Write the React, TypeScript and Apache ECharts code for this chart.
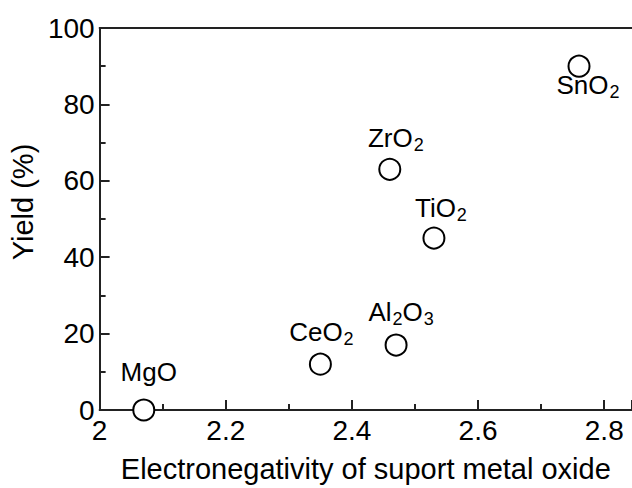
import React, { useEffect, useRef } from "react";
import * as echarts from "echarts";

const names = ["MgO", "CeO2", "Al2O3", "ZrO2", "TiO2", "SnO2"];
const labelRich = [
  "{a|MgO}",
  "{a|CeO}{s|2}",
  "{a|Al}{s|2}{a|O}{s|3}",
  "{a|ZrO}{s|2}",
  "{a|TiO}{s|2}",
  "{a|SnO}{s|2}",
];
const electronegativity = [2.07, 2.35, 2.47, 2.46, 2.53, 2.76];
const yieldPct = [0, 12, 17, 63, 45, 90];

// label placement (style only)
const labelPos = ["top", "top", "top", "top", "top", "bottom"];
const labelShift = [
  [5, -8],
  [1, -2],
  [5, -3],
  [6, -1],
  [7, 0],
  [9, -4],
];

const FONT = "'Liberation Sans', Arial, sans-serif";

export default function App() {
  const ref = useRef<HTMLDivElement>(null);
  useEffect(() => {
    if (!ref.current) return;
    const chart = echarts.init(ref.current, undefined, { renderer: "svg" });
    const rich = {
      a: { fontSize: 26, fontFamily: FONT, color: "#000", lineHeight: 30 },
      s: { fontSize: 18, fontFamily: FONT, color: "#000", padding: [14, 0, 0, 1], lineHeight: 30 },
    };
    const data = names.map((n, i) => ({
      name: n,
      value: [electronegativity[i], yieldPct[i]],
      label: {
        show: true,
        color: "#000",
        textBorderWidth: 0,
        position: labelPos[i],
        distance: labelPos[i] === "top" ? 4 : -4,
        offset: labelShift[i],
        formatter: labelRich[i],
        rich,
      },
    }));
    const axisLine = { show: true, lineStyle: { color: "#222", width: 2 } };
    chart.setOption({
      animation: false,
      backgroundColor: "#fff",
      grid: { left: 97, top: 28, width: 535, height: 385, containLabel: false },
      xAxis: [
        {
          type: "value",
          min: 2,
          max: 2.844,
          interval: 0.2,
          position: "bottom",
          axisLine,
          axisTick: { show: true, inside: true, length: 10, lineStyle: { color: "#222", width: 2 } },
          minorTick: { show: true, splitNumber: 2, length: 6, lineStyle: { color: "#222", width: 2 } },
          splitLine: { show: false },
          axisLabel: {
            fontSize: 28,
            fontFamily: FONT,
            color: "#000",
            margin: 6,
            formatter: (v: number) => (Math.abs(v - 2) < 1e-9 ? "2" : v.toFixed(1)),
          },
          name: "Electronegativity of suport metal oxide",
          nameLocation: "middle",
          nameGap: 44,
          nameTextStyle: { fontSize: 29, fontFamily: FONT, color: "#000" },
        },
        {
          type: "value",
          min: 2,
          max: 2.844,
          position: "top",
          axisLine,
          axisTick: { show: false },
          axisLabel: { show: false },
          splitLine: { show: false },
        },
      ],
      yAxis: {
        type: "value",
        min: 0,
        max: 100,
        interval: 20,
        axisLine,
        axisTick: { show: true, inside: true, length: 10, lineStyle: { color: "#222", width: 2 } },
        minorTick: { show: true, splitNumber: 2, length: 6, lineStyle: { color: "#222", width: 2 } },
        splitLine: { show: false },
        axisLabel: { fontSize: 28, fontFamily: FONT, color: "#000", margin: 5 },
        name: "Yield (%)",
        nameLocation: "middle",
        nameGap: 53,
        nameTextStyle: { fontSize: 29, fontFamily: FONT, color: "#000", padding: [0, 0, 0, 34] },
      },
      series: [
        {
          type: "scatter",
          xAxisIndex: 0,
          symbol: "circle",
          symbolSize: 21,
          itemStyle: { color: "#fff", borderColor: "#000", borderWidth: 2, opacity: 1 },
          emphasis: { disabled: true },
          data,
          z: 5,
        },
      ],
    });
    return () => chart.dispose();
  }, []);
  return (
    <div
      ref={ref}
      style={{ position: "fixed", left: 0, top: 0, width: 632, height: 488 }}
    />
  );
}
